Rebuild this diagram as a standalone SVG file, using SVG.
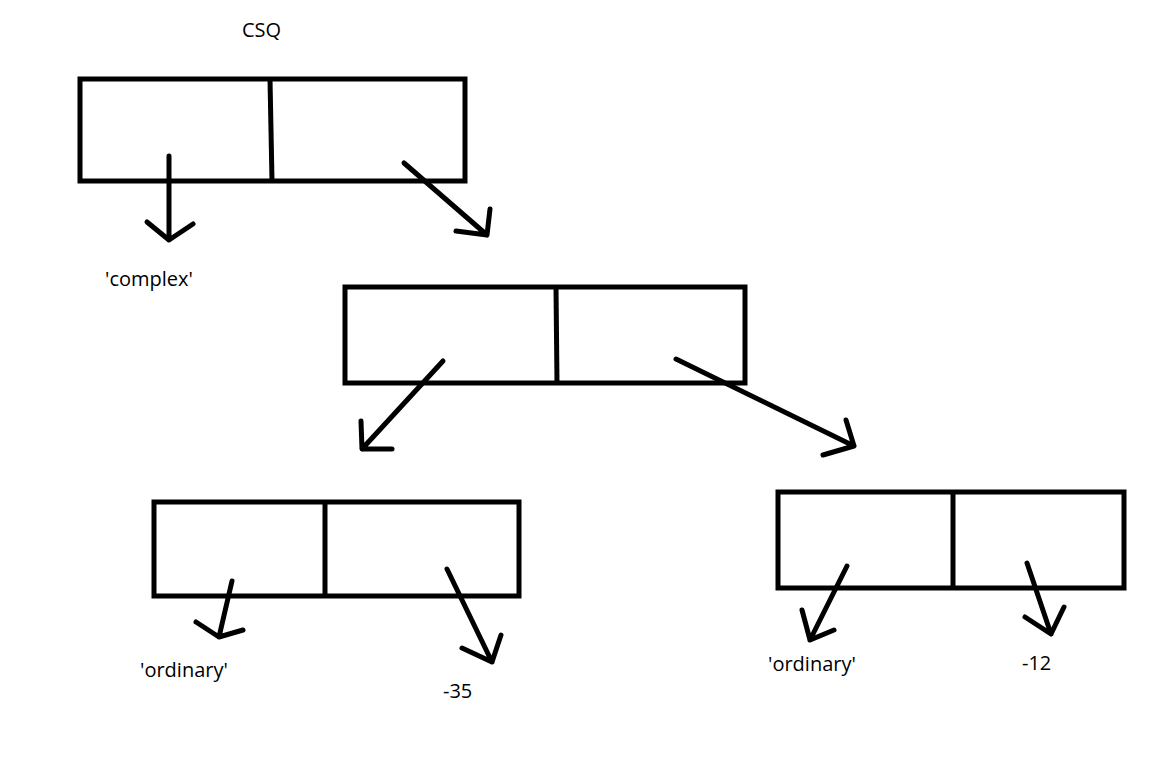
<svg xmlns="http://www.w3.org/2000/svg" width="1171" height="761" viewBox="0 0 1171 761">
  <style>
    .box { fill: none; stroke: #000; stroke-width: 5; }
    .div { stroke: #000; stroke-width: 5; }
    .ptr { fill: none; stroke: #000; stroke-width: 5; stroke-linecap: round; stroke-linejoin: round; }
    .lbl { font-family: "Open Sans", "Noto Sans", sans-serif; font-size: 20px; fill: #000; }
  </style>
  <rect width="1171" height="761" fill="#fff"/>

  <text class="lbl" x="242" y="37">CSQ</text>

  <!-- cons cell: root -->
  <g id="cell-root">
    <rect class="box" x="80" y="79" width="385" height="102"/>
    <line class="div" x1="270" y1="79" x2="272" y2="181"/>
  </g>

  <!-- cons cell: second -->
  <g id="cell-mid">
    <rect class="box" x="345" y="287" width="400" height="96"/>
    <line class="div" x1="556" y1="287" x2="557" y2="383"/>
  </g>

  <!-- cons cell: lower left -->
  <g id="cell-left">
    <rect class="box" x="154" y="502" width="365" height="94"/>
    <line class="div" x1="325" y1="502" x2="325" y2="596"/>
  </g>

  <!-- cons cell: lower right -->
  <g id="cell-right">
    <rect class="box" x="778" y="492" width="346" height="96"/>
    <line class="div" x1="953" y1="492" x2="953" y2="588"/>
  </g>

  <!-- pointers -->
  <g id="connectors">
    <path class="ptr" d="M169 156 L169 240 M147 222 L169 240 L193 224"/>
    <path class="ptr" d="M404 163 L487 235 M456 231 L487 235 L490 209"/>
    <path class="ptr" d="M443 361 L362 449 M361 421 L362 449 L392 449"/>
    <path class="ptr" d="M676 359 L854 446 M846 420 L854 446 L823 455"/>
    <path class="ptr" d="M232 581 L219 637 M196 622 L219 637 L243 630"/>
    <path class="ptr" d="M447 569 L492 662 M462 648 L492 662 L501 635"/>
    <path class="ptr" d="M847 566 L810 640 M802 610 L810 640 L834 630"/>
    <path class="ptr" d="M1027 563 L1051 634 M1025 617 L1051 634 L1064 607"/>
  </g>

  <!-- leaf values -->
  <text class="lbl" x="105" y="286">'complex'</text>
  <text class="lbl" x="140" y="677">'ordinary'</text>
  <text class="lbl" x="443" y="698">-35</text>
  <text class="lbl" x="768" y="671">'ordinary'</text>
  <text class="lbl" x="1022" y="670">-12</text>
</svg>
